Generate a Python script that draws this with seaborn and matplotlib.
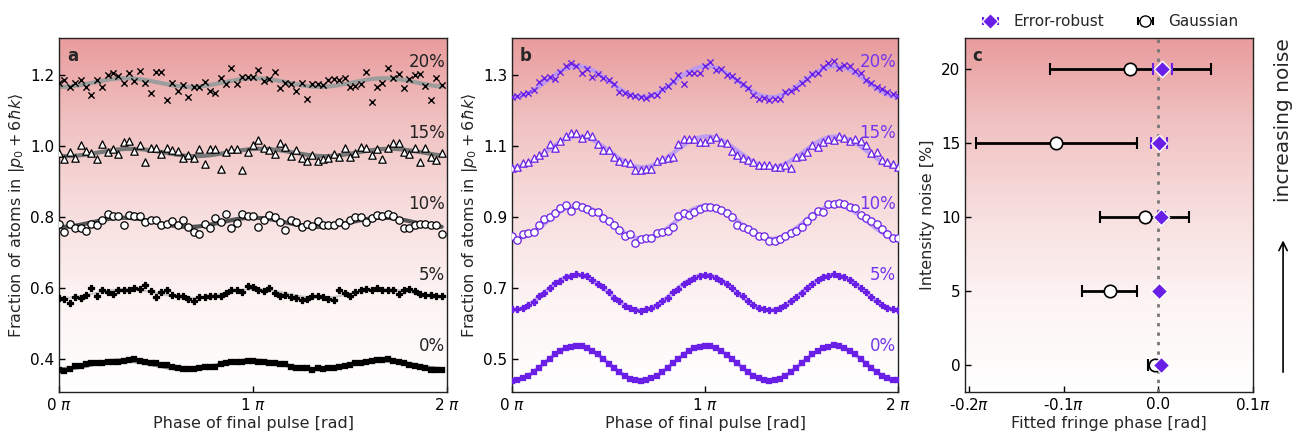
import numpy as np
import matplotlib
matplotlib.use("Agg")
import matplotlib.pyplot as plt
import seaborn as sns
from matplotlib.colors import LinearSegmentedColormap

# ---------------- data ----------------
noise_labels = ["0%", "5%", "10%", "15%", "20%"]
label_offsets = [0.4, 0.6, 0.8, 1.0, 1.2]

# panel a: Gaussian pulses, 72 phases in units of pi
gauss_0 = [0.369, 0.366, 0.371, 0.380, 0.380, 0.386, 0.388, 0.390, 0.390, 0.392,
           0.392, 0.392, 0.394, 0.397, 0.399, 0.394, 0.392, 0.390, 0.388, 0.383,
           0.383, 0.378, 0.374, 0.371, 0.371, 0.371, 0.374, 0.377, 0.377, 0.378,
           0.386, 0.390, 0.392, 0.392, 0.392, 0.394, 0.394, 0.392, 0.392, 0.388,
           0.388, 0.385, 0.385, 0.378, 0.376, 0.376, 0.374, 0.369, 0.374, 0.371,
           0.374, 0.374, 0.378, 0.381, 0.383, 0.388, 0.390, 0.392, 0.394, 0.397,
           0.397, 0.399, 0.394, 0.391, 0.388, 0.383, 0.381, 0.378, 0.374, 0.369,
           0.369, 0.369]
gauss_5 = [0.572, 0.569, 0.558, 0.575, 0.571, 0.581, 0.600, 0.577, 0.595, 0.588,
           0.583, 0.593, 0.593, 0.595, 0.600, 0.597, 0.607, 0.591, 0.574, 0.588,
           0.593, 0.581, 0.577, 0.578, 0.569, 0.562, 0.575, 0.575, 0.577, 0.578,
           0.577, 0.586, 0.593, 0.595, 0.588, 0.605, 0.603, 0.593, 0.591, 0.600,
           0.586, 0.577, 0.581, 0.575, 0.572, 0.567, 0.569, 0.577, 0.577, 0.575,
           0.569, 0.567, 0.595, 0.586, 0.578, 0.588, 0.595, 0.597, 0.593, 0.600,
           0.593, 0.595, 0.595, 0.583, 0.593, 0.597, 0.591, 0.583, 0.581, 0.581,
           0.577, 0.578]
gauss_10 = [0.781, 0.757, 0.781, 0.769, 0.769, 0.760, 0.781, 0.776, 0.791, 0.807,
            0.802, 0.802, 0.776, 0.805, 0.802, 0.804, 0.785, 0.792, 0.791, 0.778,
            0.781, 0.788, 0.778, 0.791, 0.772, 0.757, 0.753, 0.781, 0.769, 0.797,
            0.785, 0.807, 0.769, 0.783, 0.807, 0.802, 0.804, 0.772, 0.791, 0.805,
            0.800, 0.785, 0.764, 0.792, 0.785, 0.772, 0.781, 0.774, 0.788, 0.778,
            0.778, 0.778, 0.785, 0.778, 0.791, 0.800, 0.800, 0.785, 0.797, 0.805,
            0.804, 0.808, 0.802, 0.792, 0.769, 0.769, 0.778, 0.781, 0.781, 0.778,
            0.776, 0.752]
gauss_15 = [0.979, 0.962, 0.983, 0.967, 1.002, 0.986, 0.979, 0.964, 1.005, 0.983,
            0.992, 0.978, 1.011, 1.014, 0.986, 1.002, 0.956, 0.993, 0.995, 0.978,
            0.995, 0.988, 0.986, 0.967, 0.974, 0.967, 0.992, 0.948, 0.992, 0.992,
            0.934, 0.983, 0.991, 0.991, 0.931, 0.983, 1.002, 1.017, 0.993, 0.988,
            0.977, 1.007, 0.998, 0.972, 0.988, 0.967, 0.958, 0.975, 0.958, 0.962,
            0.967, 0.977, 0.970, 0.993, 0.970, 0.979, 0.998, 0.993, 0.974, 0.991,
            0.962, 0.993, 1.007, 1.007, 0.983, 0.977, 0.993, 0.956, 0.993, 0.970,
            0.961, 0.979]
gauss_20 = [1.177, 1.186, 1.167, 1.177, 1.186, 1.165, 1.144, 1.186, 1.165, 1.200,
            1.205, 1.197, 1.177, 1.205, 1.184, 1.211, 1.177, 1.148, 1.207, 1.207,
            1.130, 1.178, 1.155, 1.172, 1.139, 1.165, 1.165, 1.181, 1.155, 1.150,
            1.191, 1.175, 1.219, 1.175, 1.195, 1.195, 1.195, 1.214, 1.184, 1.188,
            1.207, 1.162, 1.177, 1.175, 1.156, 1.177, 1.131, 1.175, 1.175, 1.172,
            1.186, 1.188, 1.186, 1.191, 1.165, 1.169, 1.175, 1.207, 1.123, 1.167,
            1.177, 1.219, 1.191, 1.203, 1.162, 1.188, 1.200, 1.202, 1.169, 1.130,
            1.192, 1.172]

# panel b: error-robust pulses, 73 phases in units of pi
robust_0 = [0.439, 0.441, 0.446, 0.453, 0.463, 0.475, 0.488, 0.501, 0.513, 0.523,
            0.531, 0.535, 0.537, 0.536, 0.531, 0.523, 0.513, 0.500, 0.487, 0.475,
            0.463, 0.452, 0.445, 0.441, 0.438,
            0.440, 0.446, 0.453, 0.464, 0.476, 0.488, 0.500, 0.512, 0.523, 0.530,
            0.535, 0.537, 0.536, 0.530, 0.522, 0.512, 0.501, 0.488, 0.475, 0.463,
            0.453, 0.446, 0.441, 0.439,
            0.440, 0.445, 0.453, 0.463, 0.476, 0.488, 0.501, 0.513, 0.523, 0.531,
            0.535, 0.538, 0.536, 0.531, 0.523, 0.513, 0.500, 0.487, 0.475, 0.464,
            0.453, 0.446, 0.441, 0.440]
robust_5 = [0.641, 0.640, 0.643, 0.653, 0.660, 0.676, 0.686, 0.699, 0.714, 0.721,
            0.731, 0.735, 0.738, 0.736, 0.733, 0.722, 0.710, 0.702, 0.688, 0.673,
            0.664, 0.650, 0.645, 0.638, 0.634,
            0.640, 0.644, 0.652, 0.664, 0.673, 0.688, 0.698, 0.712, 0.721, 0.729,
            0.734, 0.737, 0.735, 0.729, 0.721, 0.712, 0.700, 0.686, 0.676, 0.663,
            0.652, 0.643, 0.640, 0.637,
            0.638, 0.644, 0.652, 0.662, 0.675, 0.687, 0.701, 0.711, 0.722, 0.731,
            0.734, 0.738, 0.735, 0.731, 0.722, 0.711, 0.699, 0.688, 0.675, 0.663,
            0.653, 0.645, 0.640, 0.638]
robust_10 = [0.845, 0.835, 0.851, 0.854, 0.859, 0.877, 0.894, 0.901, 0.910, 0.924,
             0.934, 0.918, 0.934, 0.929, 0.923, 0.915, 0.915, 0.896, 0.889, 0.877,
             0.863, 0.847, 0.851, 0.826,
             0.837, 0.842, 0.842, 0.854, 0.859, 0.861, 0.873, 0.904, 0.910, 0.906,
             0.915, 0.922, 0.929, 0.927, 0.924, 0.920, 0.910, 0.901, 0.877, 0.873,
             0.865, 0.859, 0.847, 0.845, 0.832,
             0.831, 0.838, 0.847, 0.854, 0.861, 0.873, 0.889, 0.904, 0.917, 0.915,
             0.936, 0.936, 0.938, 0.936, 0.927, 0.926, 0.906, 0.896, 0.889, 0.879,
             0.866, 0.851, 0.842, 0.842]
robust_15 = [1.037, 1.042, 1.051, 1.056, 1.065, 1.075, 1.082, 1.105, 1.093, 1.114,
             1.129, 1.136, 1.136, 1.122, 1.133, 1.129, 1.105, 1.089, 1.089, 1.068,
             1.059, 1.054, 1.051, 1.032,
             1.032, 1.035, 1.035, 1.058, 1.063, 1.067, 1.070, 1.105, 1.120, 1.120,
             1.120, 1.110, 1.110, 1.120, 1.126, 1.112, 1.108, 1.086, 1.075, 1.067,
             1.061, 1.056, 1.045, 1.045, 1.045,
             1.042, 1.042, 1.045, 1.039, 1.070, 1.073, 1.084, 1.103, 1.098, 1.112,
             1.120, 1.117, 1.129, 1.123, 1.114, 1.120, 1.114, 1.103, 1.079, 1.082,
             1.061, 1.056, 1.048, 1.042]
robust_20 = [1.239, 1.242, 1.246, 1.248, 1.258, 1.279, 1.291, 1.295, 1.289, 1.309,
             1.326, 1.333, 1.326, 1.305, 1.317, 1.295, 1.302, 1.291, 1.286, 1.274,
             1.253, 1.248, 1.244, 1.242,
             1.239, 1.236, 1.244, 1.244, 1.261, 1.270, 1.283, 1.300, 1.274, 1.305,
             1.305, 1.305, 1.326, 1.336, 1.314, 1.317, 1.300, 1.298, 1.286, 1.274,
             1.262, 1.244, 1.232, 1.236, 1.230,
             1.232, 1.232, 1.253, 1.255, 1.262, 1.277, 1.289, 1.302, 1.305, 1.323,
             1.333, 1.339, 1.319, 1.328, 1.326, 1.311, 1.305, 1.286, 1.277, 1.267,
             1.261, 1.253, 1.246, 1.242]

# panel c: fitted fringe phase (units of pi) vs intensity noise [%]
noise_pct = [0, 5, 10, 15, 20]
robust_phase = [0.003, 0.001, 0.003, 0.001, 0.004]
robust_err = [0.002, 0.002, 0.0035, 0.0085, 0.010]
gauss_phase = [-0.004, -0.0515, -0.0145, -0.108, -0.030]
gauss_err = [0.007, 0.029, 0.047, 0.085, 0.085]

PURPLE = "#6a1fe6"
PURPLE_TXT = "#7436ec"
FIT_PURPLE = "#b597f7"

# ---------------- style ----------------
sns.set_theme(style="ticks")
plt.rcParams["font.family"] = ["DejaVu Sans"]
plt.rcParams["mathtext.fontset"] = "dejavusans"

fig = plt.figure(figsize=(12.98, 4.36), dpi=100)
bot, hgt = 0.1009, 0.8119
ax_a = fig.add_axes([0.0455, bot, 0.2989, hgt])
ax_b = fig.add_axes([0.3945, bot, 0.2974, hgt])
ax_c = fig.add_axes([0.7435, bot, 0.2219, hgt])

bg_cmap = LinearSegmentedColormap.from_list(
    "bg", [(0, "#ffffff"), (0.25, "#fdf4f4"), (0.5, "#f8dfdf"),
           (0.75, "#f1c3c3"), (1.0, "#e99c9d")])
grad = np.linspace(0, 1, 256).reshape(-1, 1)


def background(ax):
    ax.imshow(grad, extent=[0, 1, 0, 1], transform=ax.transAxes, origin="lower",
              cmap=bg_cmap, aspect="auto", zorder=0, interpolation="bilinear")


def style_axes(ax):
    ax.tick_params(direction="in", length=4, width=1, labelsize=11,
                   top=False, right=False, colors="black")
    for s in ax.spines.values():
        s.set_linewidth(1.0)
        s.set_color("#222222")


def sin_fit(x, y, xf):
    A = np.column_stack([np.ones_like(x), np.cos(3 * np.pi * x), np.sin(3 * np.pi * x)])
    coef, *_ = np.linalg.lstsq(A, np.asarray(y), rcond=None)
    Af = np.column_stack([np.ones_like(xf), np.cos(3 * np.pi * xf), np.sin(3 * np.pi * xf)])
    return Af @ coef


def draw_points(ax, x, ys, mk, col):
    if mk == "x":
        sns.scatterplot(x=x, y=ys, ax=ax, marker="x", s=20, color=col,
                        linewidth=1.0, zorder=3, legend=False)
    elif mk in ("o", "^"):
        sns.scatterplot(x=x, y=ys, ax=ax, marker=mk, s=28, facecolor="white",
                        edgecolor=col, linewidth=0.9, zorder=3, legend=False)
    elif mk == "s":
        sns.scatterplot(x=x, y=ys, ax=ax, marker="s", s=13, color=col,
                        edgecolor=col, linewidth=0.2, zorder=3, legend=False)
    else:
        sns.scatterplot(x=x, y=ys, ax=ax, marker="P", s=14, color=col,
                        edgecolor=col, linewidth=0.9, zorder=3, legend=False)


# ---------------- panel a ----------------
phase_a = np.linspace(0, 2, 72, endpoint=False)
xf_a = np.linspace(0, phase_a[-1], 300)
background(ax_a)
a_series = [gauss_0, gauss_5, gauss_10, gauss_15, gauss_20]
markers = ["s", "P", "o", "^", "x"]
a_fit_col = ["#8c8c8c", "#c8c8c8", "#555555", "#777777", "#9d9d9d"]
for ys, mk, fc in zip(a_series, markers, a_fit_col):
    sns.lineplot(x=xf_a, y=sin_fit(phase_a, ys, xf_a), ax=ax_a, color=fc,
                 lw=3 if mk != "P" else 1.5, zorder=2, legend=False)
    draw_points(ax_a, phase_a, ys, mk, "black")
for lab, off in zip(noise_labels, label_offsets):
    ax_a.text(0.995, off + 0.037, lab, transform=ax_a.get_yaxis_transform(),
              ha="right", va="center", fontsize=12, color="#222222", zorder=5)
ax_a.set_xlim(0, 2)
ax_a.set_ylim(0.307, 1.304)
ax_a.set_xticks([0, 1, 2])
ax_a.set_xticklabels([r"0 $\pi$", r"1 $\pi$", r"2 $\pi$"])
ax_a.set_yticks([0.4, 0.6, 0.8, 1.0, 1.2])
ax_a.set_xlabel("Phase of final pulse [rad]", fontsize=11.5, labelpad=2)
ax_a.set_ylabel(r"Fraction of atoms in $|p_0 + 6\hbar k\rangle$", fontsize=11.5, labelpad=2)
ax_a.text(0.02, 0.975, "a", transform=ax_a.transAxes, ha="left", va="top",
          fontsize=12, fontweight="bold", zorder=5)
style_axes(ax_a)

# ---------------- panel b ----------------
phase_b = np.linspace(0, 2, 73)
xf_b = np.linspace(0, 2, 300)
background(ax_b)
b_series = [robust_0, robust_5, robust_10, robust_15, robust_20]
for ys, mk in zip(b_series, markers):
    sns.lineplot(x=xf_b, y=sin_fit(phase_b, ys, xf_b), ax=ax_b, color=FIT_PURPLE,
                 lw=3, alpha=0.85, zorder=2, legend=False)
    draw_points(ax_b, phase_b, ys, mk, PURPLE)
for lab, off in zip(noise_labels, label_offsets):
    ax_b.text(0.995, off + 0.137, lab, transform=ax_b.get_yaxis_transform(),
              ha="right", va="center", fontsize=12, color=PURPLE_TXT, zorder=5)
ax_b.set_xlim(0, 2)
ax_b.set_ylim(0.407, 1.404)
ax_b.set_xticks([0, 1, 2])
ax_b.set_xticklabels([r"0 $\pi$", r"1 $\pi$", r"2 $\pi$"])
ax_b.set_yticks([0.5, 0.7, 0.9, 1.1, 1.3])
ax_b.set_xlabel("Phase of final pulse [rad]", fontsize=11.5, labelpad=2)
ax_b.set_ylabel(r"Fraction of atoms in $|p_0 + 6\hbar k\rangle$", fontsize=11.5, labelpad=2)
ax_b.text(0.02, 0.975, "b", transform=ax_b.transAxes, ha="left", va="top",
          fontsize=12, fontweight="bold", zorder=5)
style_axes(ax_b)

# ---------------- panel c ----------------
background(ax_c)
ax_c.axvline(0, color="#777777", ls=(0, (1.2, 2.2)), lw=2, zorder=1)
ax_c.errorbar(gauss_phase, noise_pct, xerr=gauss_err, fmt="none", ecolor="black",
              elinewidth=2, capsize=4, capthick=1.5, zorder=3)
sns.scatterplot(x=gauss_phase, y=noise_pct, ax=ax_c, marker="o", s=80,
                facecolor="white", edgecolor="black", linewidth=1.2, zorder=4, legend=False)
ax_c.errorbar(robust_phase, noise_pct, xerr=robust_err, fmt="none", ecolor=PURPLE,
              elinewidth=1.5, capsize=4, capthick=1.5, zorder=5)
sns.scatterplot(x=robust_phase, y=noise_pct, ax=ax_c, marker="D", s=70,
                color=PURPLE, edgecolor="white", linewidth=1.0, zorder=6, legend=False)

# legend handles: error bar containers drawn outside the visible range
h_rob = ax_c.errorbar([0.0], [-50], xerr=[0.01], fmt="D", color=PURPLE, mec="white",
                      ms=8, capsize=3, elinewidth=1.5, capthick=1.5)
h_gau = ax_c.errorbar([0.0], [-50], xerr=[0.01], fmt="o", color="black", mfc="white",
                      mec="black", ms=8, capsize=3, elinewidth=1.5, capthick=1.5)
ax_c.legend([h_rob, h_gau], ["Error-robust", "Gaussian"], ncol=2, frameon=False,
            loc="lower center", bbox_to_anchor=(0.5, 1.0), fontsize=11,
            handlelength=1.4, columnspacing=2.0, borderaxespad=0.2)

ax_c.set_xlim(-0.2045, 0.1)
ax_c.set_ylim(-1.8, 22.1)
ax_c.set_xticks([-0.2, -0.1, 0.0, 0.1])
ax_c.set_xticklabels([r"-0.2$\pi$", r"-0.1$\pi$", "0.0", r"0.1$\pi$"])
ax_c.set_yticks([0, 5, 10, 15, 20])
ax_c.set_xlabel("Fitted fringe phase [rad]", fontsize=11.5, labelpad=2)
ax_c.set_ylabel("Intensity noise [%]", fontsize=11.5, labelpad=4)
ax_c.text(0.025, 0.975, "c", transform=ax_c.transAxes, ha="left", va="top",
          fontsize=12, fontweight="bold", zorder=7)
style_axes(ax_c)

fig.text(0.9885, 0.725, "increasing noise", rotation=90, ha="center", va="center",
         fontsize=14.5)
fig.add_artist(matplotlib.patches.FancyArrowPatch(
    (0.9885, 0.14), (0.9885, 0.455), transform=fig.transFigure,
    arrowstyle="->", mutation_scale=15, lw=1.2, color="black"))

fig.savefig("out.png", dpi=100)
